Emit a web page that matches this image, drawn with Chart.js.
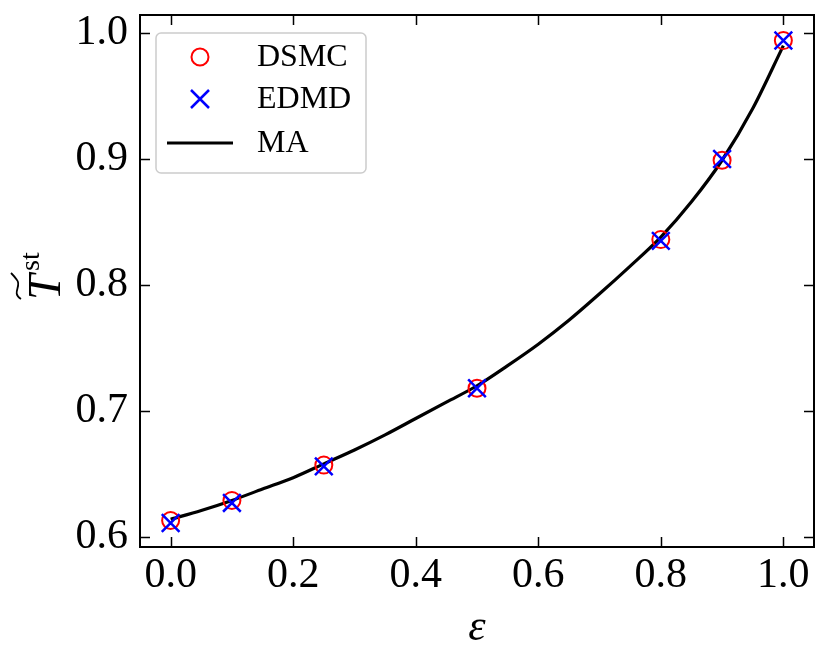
<!DOCTYPE html>
<html>
<head>
<meta charset="utf-8">
<script src="https://cdn.jsdelivr.net/npm/chart.js@4.4.1/dist/chart.umd.min.js"></script>
<style>
  html, body { margin: 0; padding: 0; background: #fff; }
</style>
</head>
<body>
<canvas id="myChart" width="831" height="669"></canvas>
<script>
// DATA
const eps = [0, 0.1, 0.25, 0.5, 0.8, 0.9, 1.0];
const dsmc = [0.613, 0.629, 0.657, 0.718, 0.836, 0.899, 0.994];
const edmd = [0.611, 0.627, 0.656, 0.718, 0.835, 0.900, 0.994];

// MA curve
const maEps = [0, 0.05, 0.1, 0.15, 0.2, 0.25, 0.3, 0.35, 0.4, 0.45, 0.5,
               0.55, 0.6, 0.65, 0.7, 0.75, 0.8, 0.85, 0.9, 0.95, 1.0];
const maT = [0.614, 0.621, 0.629, 0.638, 0.647, 0.658, 0.669, 0.681, 0.694, 0.707, 0.720,
             0.736, 0.753, 0.772, 0.793, 0.815, 0.838, 0.866, 0.899, 0.940, 0.990];

const xTicks = [0, 0.2, 0.4, 0.6, 0.8, 1.0];
const yTicks = [0.6, 0.7, 0.8, 0.9, 1.0];

const FONT = '"Liberation Serif", "DejaVu Serif", serif';

function pts(xs, ys) {
    return xs.map((x, i) => ({ x: x, y: ys[i] }));
}

// frame, inward ticks, legend and axis labels (matplotlib look)
const decor = {
    id: 'decor',
    afterDatasetsDraw(chart) {
        const c = chart.ctx;
        const a = chart.chartArea;
        const sx = chart.scales.x, sy = chart.scales.y;
        c.save();
        c.strokeStyle = '#000';
        c.lineWidth = 1.5;
        c.beginPath();
        xTicks.forEach(v => {
            const px = Math.round(sx.getPixelForValue(v)) + 0.5;
            c.moveTo(px, a.bottom); c.lineTo(px, a.bottom - 10);
            c.moveTo(px, a.top); c.lineTo(px, a.top + 10);
        });
        yTicks.forEach(v => {
            const py = Math.round(sy.getPixelForValue(v)) + 0.5;
            c.moveTo(a.left, py); c.lineTo(a.left + 10, py);
            c.moveTo(a.right, py); c.lineTo(a.right - 10, py);
        });
        c.stroke();
        c.lineWidth = 2;
        c.strokeRect(a.left, a.top, a.right - a.left, a.bottom - a.top);

        // legend
        const lx = 156, ly = 33, lw = 210, lh = 140;
        c.beginPath();
        c.roundRect(lx, ly, lw, lh, 5);
        c.fillStyle = 'rgba(255,255,255,0.8)';
        c.fill();
        c.strokeStyle = '#cccccc';
        c.lineWidth = 1.5;
        c.stroke();

        const ds = chart.data.datasets;
        const rows = [57, 99, 143];
        // circle
        c.strokeStyle = ds[0].borderColor;
        c.lineWidth = 2;
        c.beginPath();
        c.arc(200, rows[0], 8.5, 0, Math.PI * 2);
        c.stroke();
        // cross
        c.strokeStyle = ds[1].borderColor;
        c.lineWidth = 2.5;
        c.beginPath();
        c.moveTo(191, rows[1] - 9); c.lineTo(209, rows[1] + 9);
        c.moveTo(191, rows[1] + 9); c.lineTo(209, rows[1] - 9);
        c.stroke();
        // line
        c.strokeStyle = ds[2].borderColor;
        c.lineWidth = 3;
        c.beginPath();
        c.moveTo(167, rows[2]); c.lineTo(233, rows[2]);
        c.stroke();

        c.fillStyle = '#000';
        c.font = '32px ' + FONT;
        c.textBaseline = 'middle';
        c.textAlign = 'left';
        rows.forEach((r, i) => c.fillText(ds[i].label, 257, r + 1));

        // x label
        c.font = 'italic 44px ' + FONT;
        c.textAlign = 'center';
        c.fillText('ε', (a.left + a.right) / 2, 628);

        // y label: T with wide tilde, superscript st
        c.translate(44, 280);
        c.rotate(-Math.PI / 2);
        c.textAlign = 'left';
        c.textBaseline = 'alphabetic';
        c.font = 'italic 46px ' + FONT;
        c.fillText('T', -20, 16);
        c.font = '28px ' + FONT;
        c.fillText('st', 9, -5);
        c.lineWidth = 1.8;
        c.strokeStyle = '#000';
        c.beginPath();
        c.moveTo(-19, -23);
        c.bezierCurveTo(-13, -33, -6, -22, 0, -27);
        c.bezierCurveTo(3, -29, 5, -31, 7, -33);
        c.stroke();
        c.restore();
    }
};

const ctx = document.getElementById('myChart');

new Chart(ctx, {
    type: 'scatter',
    data: {
        datasets: [{
            label: 'DSMC',
            data: pts(eps, dsmc),
            borderColor: '#ff0000',
            backgroundColor: 'rgba(0,0,0,0)',
            pointStyle: 'circle',
            pointRadius: 8.5,
            pointBorderWidth: 2,
            order: 2
        }, {
            label: 'EDMD',
            data: pts(eps, edmd),
            borderColor: '#0000ff',
            backgroundColor: '#0000ff',
            pointStyle: 'crossRot',
            pointRadius: 12.5,
            pointBorderWidth: 2.5,
            order: 1
        }, {
            label: 'MA',
            data: pts(maEps, maT),
            borderColor: '#000000',
            borderWidth: 3.2,
            showLine: true,
            pointRadius: 0,
            cubicInterpolationMode: 'monotone',
            order: 3
        }]
    },
    options: {
        responsive: false,
        animation: false,
        layout: {
            padding: { left: 0, right: 17, top: 15, bottom: 0 }
        },
        plugins: {
            legend: { display: false },
            tooltip: { enabled: false }
        },
        scales: {
            x: {
                type: 'linear',
                min: -0.05,
                max: 1.05,
                afterBuildTicks: s => { s.ticks = xTicks.map(v => ({ value: v })); },
                afterFit: s => { s.height = 122; s.paddingLeft = 0; s.paddingRight = 0; },
                grid: { display: false, drawTicks: false },
                border: { display: false },
                ticks: {
                    color: '#000',
                    padding: 4,
                    font: { family: FONT, size: 42 },
                    callback: v => v.toFixed(1)
                }
            },
            y: {
                type: 'linear',
                min: 0.592,
                max: 1.0143,
                afterBuildTicks: s => { s.ticks = yTicks.map(v => ({ value: v })); },
                afterFit: s => { s.width = 140; s.paddingTop = 0; s.paddingBottom = 0; },
                grid: { display: false, drawTicks: false },
                border: { display: false },
                ticks: {
                    color: '#000',
                    padding: 12,
                    font: { family: FONT, size: 42 },
                    callback: v => v.toFixed(1)
                }
            }
        }
    },
    plugins: [decor]
});
</script>
</body>
</html>
